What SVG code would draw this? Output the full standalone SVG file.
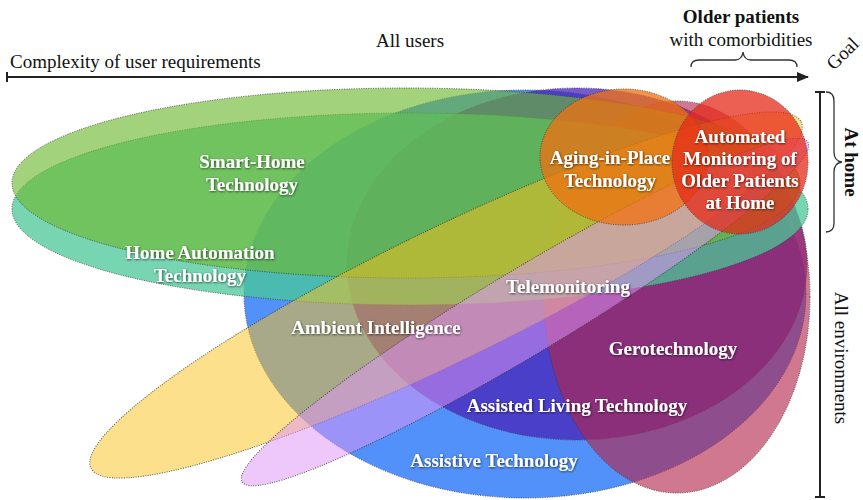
<svg xmlns="http://www.w3.org/2000/svg" width="863" height="500" viewBox="0 0 863 500">
<defs>
<style>
.e{stroke:#3a3a3a;stroke-width:1;stroke-dasharray:1 1.4;stroke-opacity:0.85}
.lbl{font-family:"Liberation Serif",serif;font-weight:bold;font-size:19px;fill:#fff;text-anchor:middle;filter:url(#sh)}
.ax{font-family:"Liberation Serif",serif;font-size:19px;fill:#111}
.axl{stroke:#222;stroke-width:2;fill:none}
.br{stroke:#333;stroke-width:1.3;fill:none}
</style>
<filter id="sh" x="-10%" y="-30%" width="120%" height="160%">
<feDropShadow dx="0.6" dy="0.8" stdDeviation="1" flood-color="#000" flood-opacity="0.7"/>
</filter>
<marker id="ah" markerWidth="12" markerHeight="10" refX="11" refY="5" orient="auto" markerUnits="userSpaceOnUse">
<path d="M0,0 L12,5 L0,10 z" fill="#222"/>
</marker>
</defs>
<rect width="863" height="500" fill="#fff"/>

<g id="assistive-technology"><ellipse class="e" cx="525" cy="294" rx="281" ry="204" fill="#3a82f8" fill-opacity="0.88"/></g>
<g id="assisted-living-technology"><ellipse class="e" cx="577" cy="264" rx="230" ry="176" fill="#4824b8" fill-opacity="0.75"/></g>
<g id="gerotechnology"><ellipse class="e" cx="677" cy="297" rx="133" ry="196" fill="#b3254a" fill-opacity="0.62"/></g>
<g id="home-automation-technology"><ellipse class="e" cx="410" cy="209" rx="398" ry="96" fill="#4ac897" fill-opacity="0.75"/></g>
<g id="smart-home-technology"><ellipse class="e" cx="406" cy="183" rx="394" ry="95" fill="#6db731" fill-opacity="0.63"/></g>
<g id="ambient-intelligence"><ellipse class="e" cx="446" cy="295" rx="395" ry="66" transform="rotate(-26 446 295)" fill="#fbc119" fill-opacity="0.5"/></g>
<g id="telemonitoring"><ellipse class="e" cx="525" cy="312" rx="330" ry="42" transform="rotate(-31 525 312)" fill="#df96f8" fill-opacity="0.52"/></g>
<g id="aging-in-place-technology"><ellipse class="e" cx="624" cy="157" rx="84" ry="68" fill="#f07010" fill-opacity="0.75"/></g>
<g id="automated-monitoring"><ellipse class="e" cx="740" cy="162" rx="68" ry="72" fill="#e52a1a" fill-opacity="0.75"/></g>

<g id="labels">
<text class="lbl" x="252" y="168">Smart-Home</text>
<text class="lbl" x="252" y="191">Technology</text>
<text class="lbl" x="200" y="259">Home Automation</text>
<text class="lbl" x="200" y="282">Technology</text>
<text class="lbl" x="610" y="164">Aging-in-Place</text>
<text class="lbl" x="610" y="187">Technology</text>
<text class="lbl" x="740" y="143">Automated</text>
<text class="lbl" x="740" y="165">Monitoring of</text>
<text class="lbl" x="740" y="187">Older Patients</text>
<text class="lbl" x="740" y="209">at Home</text>
<text class="lbl" x="568" y="293">Telemonitoring</text>
<text class="lbl" x="376" y="334">Ambient Intelligence</text>
<text class="lbl" x="673" y="355">Gerotechnology</text>
<text class="lbl" x="577" y="412">Assisted Living Technology</text>
<text class="lbl" x="494" y="467">Assistive Technology</text>
</g>

<g id="axes">
<line class="axl" x1="7" y1="77" x2="808" y2="77" marker-end="url(#ah)"/>
<line class="axl" x1="7" y1="72" x2="7" y2="82"/>
<line class="axl" x1="820" y1="92" x2="820" y2="497"/>
<line class="axl" x1="815" y1="92" x2="825" y2="92"/>
<line class="axl" x1="815" y1="497" x2="825" y2="497"/>
<path class="br" d="M691,67 Q691,60 699,60 L735,60 Q742,60 743,52 Q744,60 751,60 L789,60 Q797,60 797,67"/>
<path class="br" d="M826,92 Q834,92 834,101 L834,152 Q834,161 842,162 Q834,163 834,172 L834,223 Q834,232 826,232"/>
</g>
<g id="axis-labels">
<text class="ax" x="10" y="68">Complexity of user requirements</text>
<text class="ax" x="410" y="47" text-anchor="middle">All users</text>
<text class="ax" x="741" y="23" text-anchor="middle" font-weight="bold">Older patients</text>
<text class="ax" x="741" y="46" text-anchor="middle">with comorbidities</text>
<text class="ax" x="0" y="0" text-anchor="middle" transform="translate(847,58) rotate(-45)">Goal</text>
<text class="ax" x="0" y="0" text-anchor="middle" font-weight="bold" font-size="16" transform="translate(845,162) rotate(90)">At home</text>
<text class="ax" x="0" y="0" text-anchor="middle" transform="translate(835,358) rotate(90)">All environments</text>
</g>
</svg>
